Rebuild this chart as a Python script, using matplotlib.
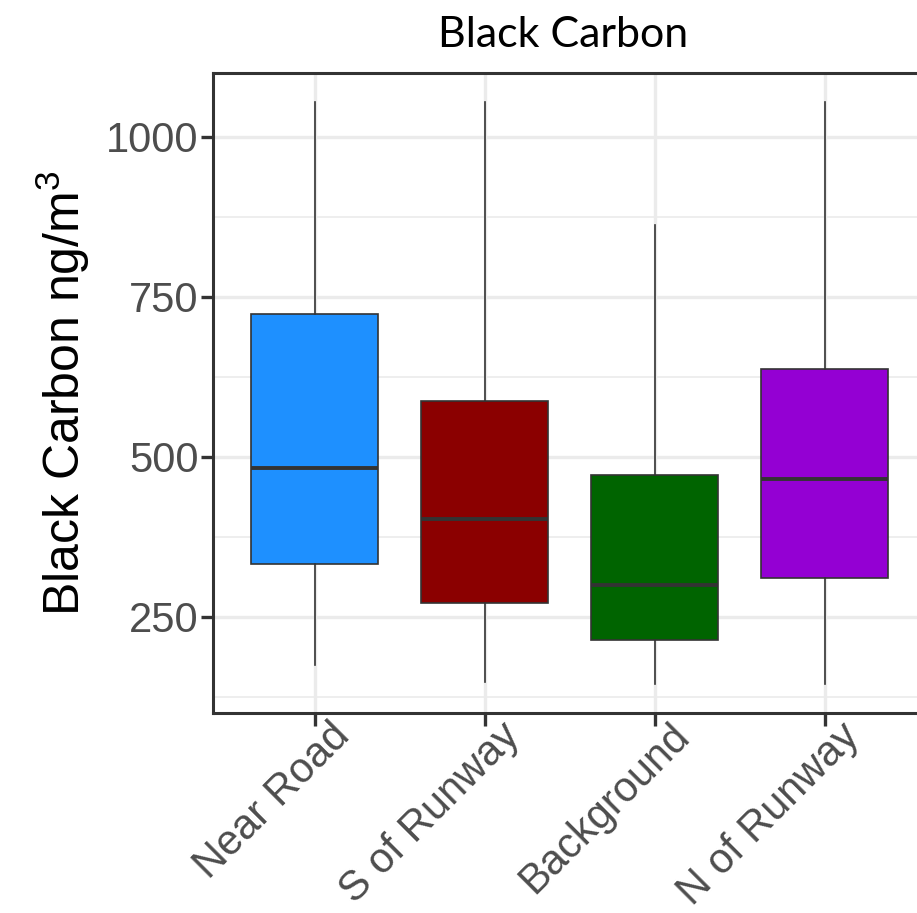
import numpy as np
import matplotlib
matplotlib.use('Agg')
import matplotlib.pyplot as plt
from matplotlib.ticker import MultipleLocator
from matplotlib.transforms import ScaledTranslation

plt.rcParams['font.family'] = ['Liberation Sans', 'DejaVu Sans']
plt.rcParams['mathtext.fontset'] = 'custom'
plt.rcParams['mathtext.rm'] = 'Liberation Sans'
plt.rcParams['mathtext.default'] = 'regular'

# box statistics
sites = ['Near Road', 'S of Runway', 'Background', 'N of Runway']
whislo = [175, 148, 145, 145]
q1 = [332, 272, 213, 310]
med = [482, 403, 299, 465]
q3 = [724, 588, 472, 638]
whishi = [1055, 1055, 863, 1055]
colors = ['#1E90FF', '#8B0000', '#006400', '#9400D3']

stats = []
for i in range(len(sites)):
    stats.append({'whislo': whislo[i], 'q1': q1[i], 'med': med[i],
                  'q3': q3[i], 'whishi': whishi[i], 'fliers': []})

fig = plt.figure(figsize=(9.17, 9.13), dpi=100)
# panel runs past the right edge, like the cropped original
ax = fig.add_axes([212.7/917, 1 - 713/913, 714/917, 640.3/913])

edge = '#333333'
pos = np.arange(1, len(sites) + 1)
bp = ax.bxp(stats, positions=pos, widths=0.75,
            patch_artist=True, showcaps=False, showfliers=False,
            boxprops=dict(edgecolor=edge, linewidth=1.2),
            whiskerprops=dict(color=edge, linewidth=1.2),
            medianprops=dict(color=edge, linewidth=2.8, solid_capstyle='butt'))
for patch, c in zip(bp['boxes'], colors):
    patch.set_facecolor(c)

ax.set_xlim(0.4, 4.6)
ax.set_ylim(99.5, 1100.5)
ax.set_xticks(pos)
ax.set_xticklabels([])
ax.yaxis.set_major_locator(MultipleLocator(250))
ax.yaxis.set_minor_locator(MultipleLocator(125))

# rotated category labels, anchored just under each tick
shift = ScaledTranslation(15/100, -3/100, fig.dpi_scale_trans)
for p, name in zip(pos, sites):
    ax.text(p, 0, name, transform=ax.get_xaxis_transform() + shift,
            rotation=45, ha='right', va='top', rotation_mode='anchor',
            fontsize=30, color='#4D4D4D')

ax.set_axisbelow(True)
ax.grid(which='major', color='#EBEBEB', linewidth=2.4)
ax.grid(which='minor', axis='y', color='#EBEBEB', linewidth=1.2)

ax.tick_params(which='major', length=9, width=2.4, color=edge,
               labelsize=30, labelcolor='#4D4D4D', pad=1)
ax.tick_params(which='minor', length=0)
for s in ax.spines.values():
    s.set_color(edge)
    s.set_linewidth(2.2)

ax.set_ylabel('Black Carbon ng/m$^3$', fontsize=36, color='black')
ax.yaxis.set_label_coords(-0.169, 0.5)

fig.text(563/917, 1 - 35/913, 'Black Carbon', ha='center', va='center',
         family=['Lato', 'DejaVu Sans'], fontsize=31)

fig.savefig('out.png', dpi=100)
